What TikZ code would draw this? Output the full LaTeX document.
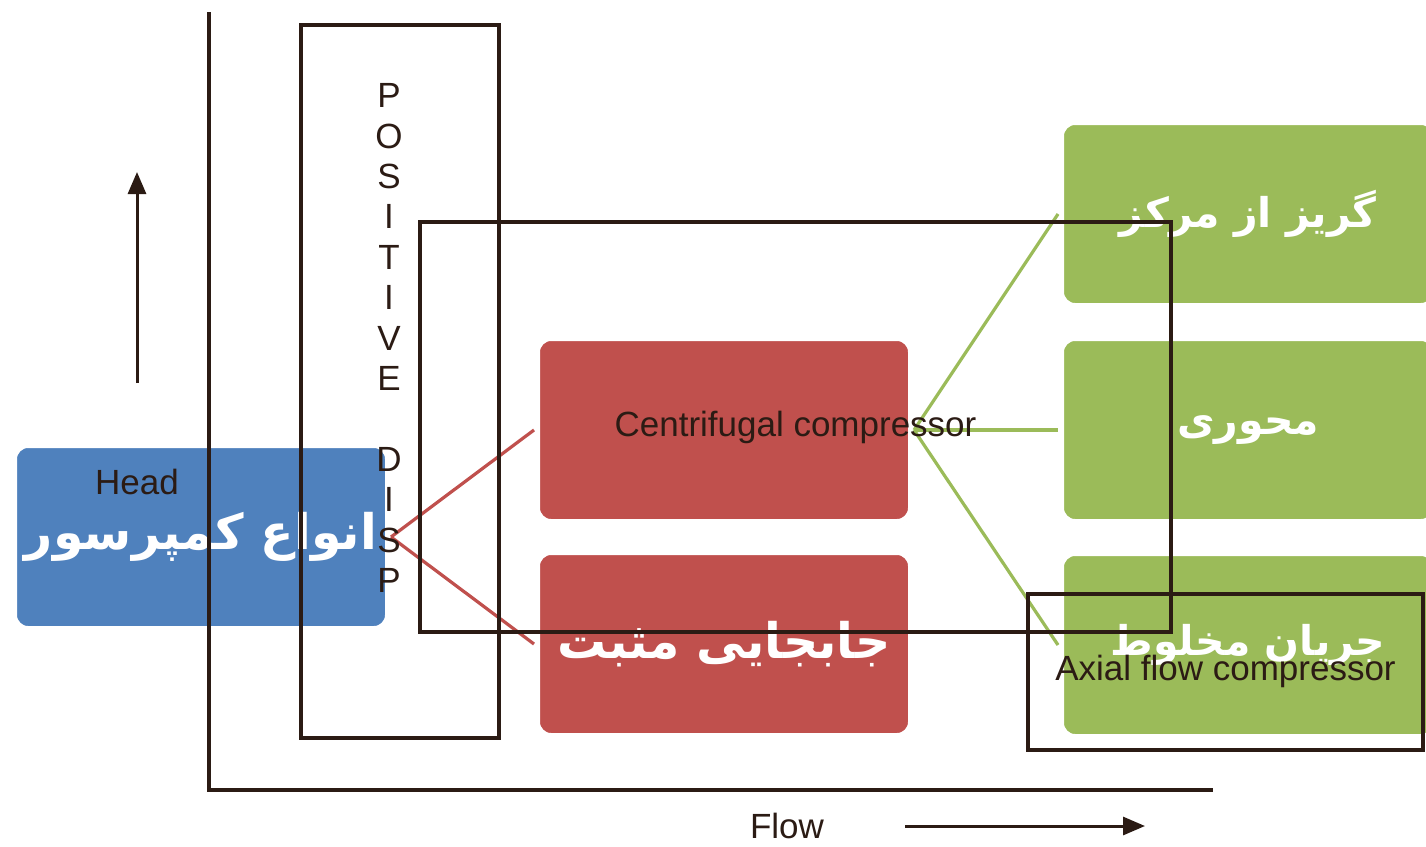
\documentclass[tikz,border=0pt]{standalone}
\usepackage{fontspec}
\setmainfont{Liberation Sans}
\newfontfamily\farsi[Script=Arabic]{DejaVu Sans}
\TeXXeTstate=1
\usetikzlibrary{arrows.meta, positioning, shadows}
\definecolor{smblue}{HTML}{4F81BD}
\definecolor{smred}{HTML}{C0504D}
\definecolor{smgreen}{HTML}{9BBB59}
\definecolor{ink}{HTML}{2B1B14}

\begin{document}
\begin{tikzpicture}[x=1pt, y=-1pt,
  font=\fontsize{35}{40.4}\selectfont, node distance=24pt,
  blk/.style={draw=white, line width=6pt, rounded corners=14pt,
              minimum width=374pt, minimum height=184pt, text=white,
              font=\farsi\bfseries\fontsize{49}{55}\selectfont,
              drop shadow={opacity=0.3, shadow xshift=1pt, shadow yshift=-2pt}},
  gblk/.style={blk, fill=smgreen, font=\farsi\bfseries\fontsize{41}{50}\selectfont},
  frame/.style={draw=ink, line width=3.2pt, inner sep=0pt, text=ink},
  redln/.style={draw=smred, line width=3.2pt},
  grnln/.style={draw=smgreen, line width=3.2pt},
  arr/.style={draw=ink, line width=3pt, -{Triangle[length=22pt, width=18pt]}}]
\useasboundingbox[fill=white] (0,0) rectangle (1426,846);
% compressor tree
\node[blk, fill=smblue] (root) at (201,537) {\raisebox{-8pt}{\beginR انواع کمپرسور\endR}};
\node[blk, fill=smred] (dyn) at (724,430) {};
\node[blk, fill=smred, below=of dyn] (pos) {\beginR جابجایی مثبت\endR};
\node[gblk] (cen) at (1248,214) {\beginR گریز از مرکز\endR};
\node[gblk] (axi) at (1248,430) {\beginR محوری\endR};
\node[gblk] (mix) at (1248,645) {\raisebox{10pt}{\beginR جریان مخلوط\endR}};
\draw[redln] (root.east) -- (dyn.west);
\draw[redln] (root.east) -- (pos.west);
\draw[grnln] (dyn.east) -- (cen.west);
\draw[grnln] (dyn.east) -- (axi.west);
\draw[grnln] (dyn.east) -- (mix.west);
% head / flow chart
\coordinate (orig) at (209,790);
\coordinate (ytop) at (209,12);
\coordinate (xend) at (1213,790);
\draw[ink, line width=3.2pt] (ytop) -- (orig) -- (xend);
\node[frame, minimum width=198pt, minimum height=713pt] (posdisp) at (400,381.5) {};
\node[text=ink, align=center, inner sep=0pt] (pdtxt) at (389,338)
  {P\\O\\S\\I\\T\\I\\V\\E\\[40.4pt]D\\I\\S\\P};
\node[frame, minimum width=751pt, minimum height=410pt] (cfc) at (795.5,427) {Centrifugal compressor};
\node[frame, minimum width=395pt, minimum height=156pt] (afc) at (1225.5,672) {\raisebox{8pt}{Axial flow compressor}};
\node[text=ink] (head) at (137,482) {Head};
\coordinate (hbot) at (137,383);
\coordinate (htop) at (137,172);
\draw[arr] (hbot) -- (htop);
\node[text=ink] (flow) at (787,826) {Flow};
\coordinate (fbeg) at (905,826);
\coordinate (fend) at (1145,826);
\draw[arr] (fbeg) -- (fend);
\end{tikzpicture}
\end{document}
